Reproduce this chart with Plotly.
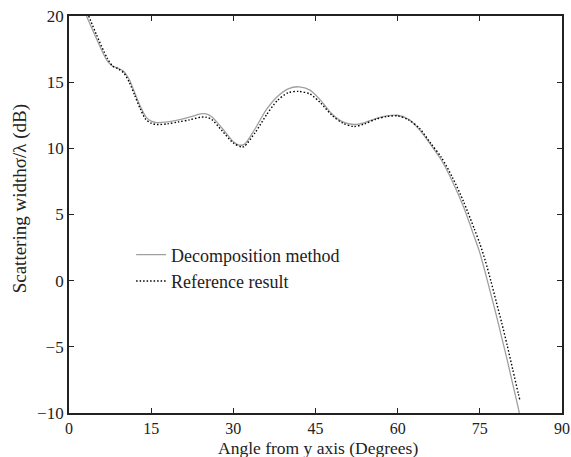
import plotly.graph_objects as go

# Decomposition method (solid gray)
dec_x = [3.2, 5, 7, 8, 9, 10, 11, 12, 13, 14, 15, 16, 18, 20, 22, 24, 25, 26, 28, 30, 31, 32, 34, 36, 38, 40, 42, 44, 46, 48, 50, 52, 54, 56, 58, 60, 62, 64, 66, 68, 70, 72, 74, 75, 76, 77, 78, 79, 80, 81, 82, 82.2]
dec_y = [20, 18.3, 16.6, 16.2, 16.05, 15.8, 15.2, 14.2, 13.2, 12.4, 12.05, 11.95, 12.0, 12.15, 12.35, 12.6, 12.6, 12.4, 11.5, 10.5, 10.25, 10.3, 11.5, 12.9, 13.9, 14.5, 14.65, 14.4, 13.6, 12.6, 12.0, 11.8, 11.95, 12.25, 12.45, 12.5, 12.2, 11.4, 10.3, 9.1, 7.5, 5.6, 3.3, 2.1, 0.6, -1.0, -2.6, -4.3, -6.0, -7.8, -9.6, -10]

# Reference result (dotted black)
ref_x = [3.6, 5, 7, 8, 9, 10, 11, 12, 13, 14, 15, 16, 18, 20, 22, 24, 25, 26, 28, 30, 31.5, 32, 34, 36, 38, 40, 42, 44, 46, 48, 50, 52, 54, 56, 58, 60, 62, 64, 66, 68, 70, 72, 74, 75, 76, 77, 78, 79, 80, 81, 82, 82.3]
ref_y = [20, 18.6, 16.8, 16.2, 16.0, 15.7, 15.0, 14.0, 13.0, 12.2, 11.9, 11.8, 11.85, 12.0, 12.15, 12.35, 12.35, 12.2, 11.3, 10.4, 10.1, 10.15, 11.2, 12.5, 13.6, 14.2, 14.3, 14.1, 13.4, 12.5, 11.9, 11.65, 11.85, 12.2, 12.4, 12.45, 12.15, 11.5, 10.4, 9.3, 7.8, 6.0, 3.9, 2.8, 1.5, 0.0, -1.6, -3.2, -4.9, -6.7, -8.5, -9.0]

x_ticks = [0, 15, 30, 45, 60, 75, 90]
y_ticks = [-10, -5, 0, 5, 10, 15, 20]
y_tick_text = ["\u221210", "\u22125", "0", "5", "10", "15", "20"]

FONT = "Liberation Serif"
INK = "#222222"

fig = go.Figure()
fig.add_trace(go.Scatter(x=dec_x, y=dec_y, mode="lines", name="Decomposition method",
                         line=dict(color="#a0a0a0", width=1.3, shape="spline", smoothing=0.8)))
fig.add_trace(go.Scatter(x=ref_x, y=ref_y, mode="lines", name="Reference result",
                         line=dict(color="#000000", width=1.4, dash="1.5px,2px", shape="spline", smoothing=0.8)))

axis_common = dict(showgrid=False, zeroline=False, showline=True, linecolor=INK, linewidth=1.8,
                   mirror="ticks", ticks="inside", ticklen=5, tickcolor=INK, tickwidth=1,
                   automargin=False)

fig.update_xaxes(range=[0, 90], tickvals=x_ticks, ticktext=[str(v) for v in x_ticks],
                 tickfont=dict(family=FONT, size=16, color=INK), **axis_common)
fig.update_yaxes(range=[-10, 20], tickvals=y_ticks, ticktext=y_tick_text,
                 tickfont=dict(family=FONT, size=17, color=INK), **axis_common)

fig.add_annotation(text="Angle from y axis (Degrees)", xref="paper", yref="paper",
                   x=0.505, y=-0.089, showarrow=False, borderpad=0,
                   font=dict(family=FONT, size=17.5, color=INK), xanchor="center", yanchor="middle")

fig.add_annotation(text="Scattering width\u03c3/\u03bb (dB)", xref="paper", yref="paper",
                   x=-0.1, y=0.54, textangle=-90, showarrow=False,
                   font=dict(family=FONT, size=19, color=INK), xanchor="center", yanchor="middle")

fig.update_layout(
    width=571, height=457,
    margin=dict(l=69, r=9, t=16, b=44),
    plot_bgcolor="white", paper_bgcolor="white",
    legend=dict(x=0.126, y=0.445, xanchor="left", yanchor="top", bgcolor="rgba(0,0,0,0)",
                font=dict(family=FONT, size=18, color=INK), tracegroupgap=0, itemwidth=30),
    showlegend=True,
)

fig.write_html("out.html")
